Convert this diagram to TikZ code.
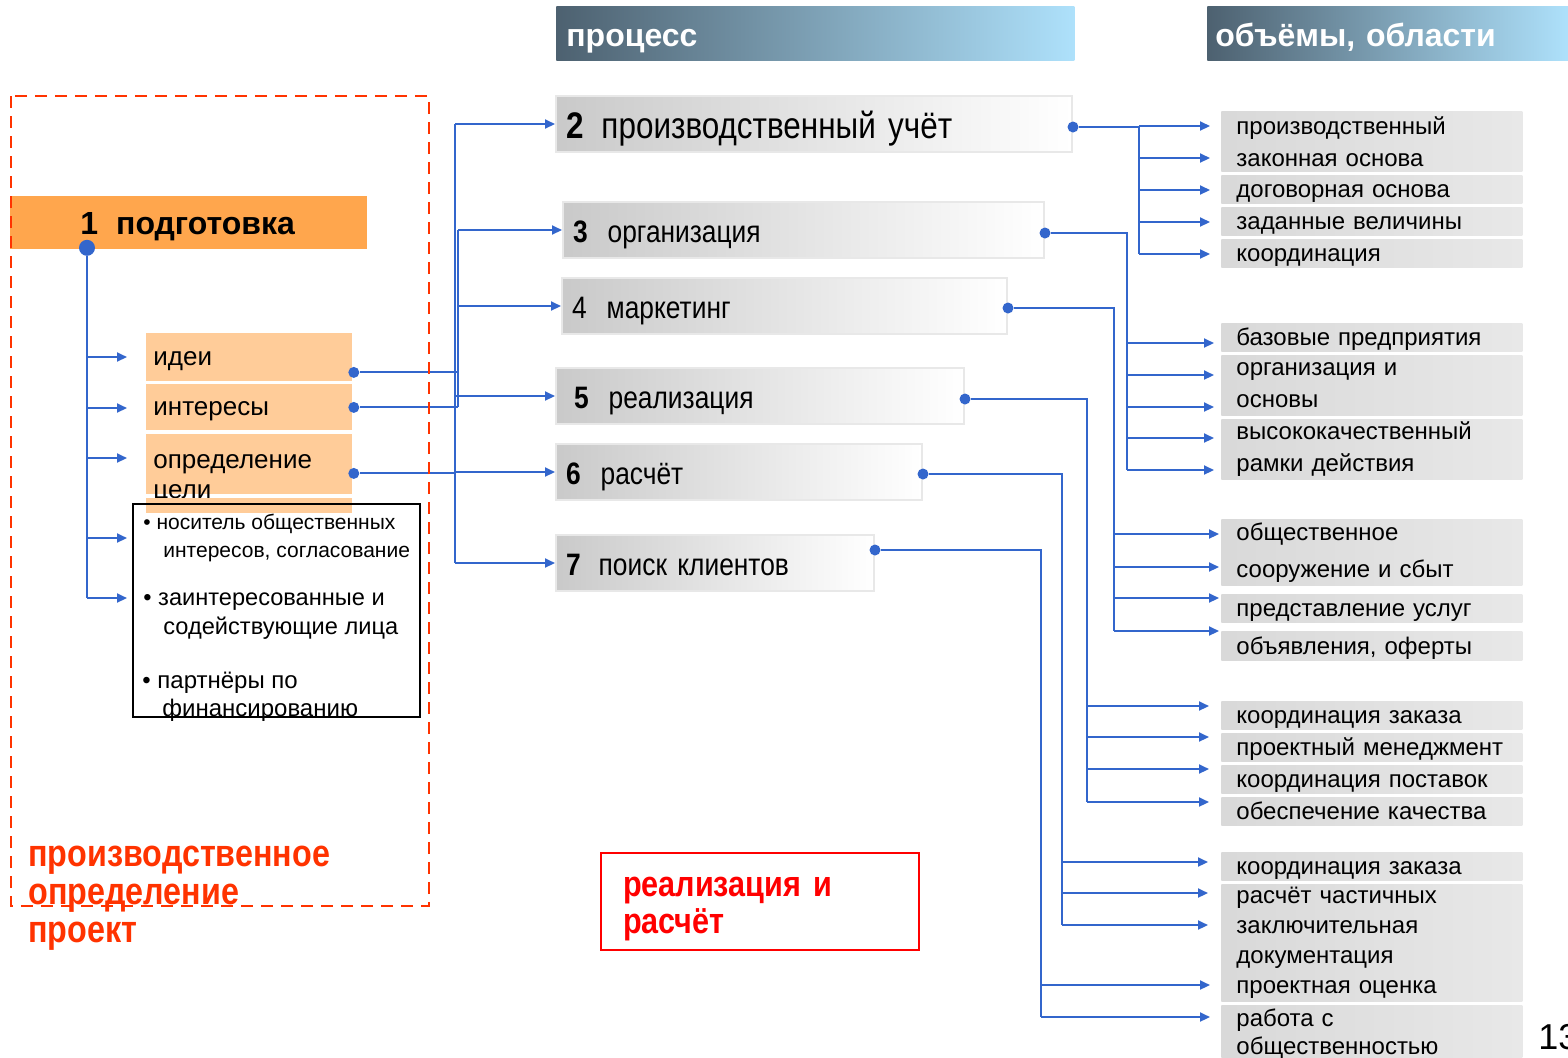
\documentclass[tikz,border=0pt]{standalone}
\usepackage{fontspec}
\setmainfont{Liberation Sans}
\newfontfamily\narrowfont[FakeStretch=0.85]{Liberation Sans}
\usetikzlibrary{positioning,arrows.meta}

\definecolor{linkblue}{HTML}{3366CC}
\definecolor{preporange}{HTML}{FFA64D}
\definecolor{itemorange}{HTML}{FFCC99}
\definecolor{frameorange}{HTML}{FF3300}
\definecolor{headdark}{HTML}{4D6170}
\definecolor{headlight}{HTML}{AEE1FB}

\begin{document}
\begin{tikzpicture}[x=0.5pt, y=-0.5pt, %one unit = one pixel of the slide, y goes down
  conn/.style={linkblue, line width=1pt},
  arr/.style={conn, -{Triangle[length=5pt, width=4.5pt]}},
  dot/.style={circle, fill=linkblue, inner sep=0pt, minimum size=5.5pt},
  headbar/.style={anchor=north west, left color=headdark, right color=headlight,
    minimum height=27pt, inner xsep=5pt, align=left, text=white,
    text height=13.5pt, text depth=0.9pt,
    font=\bfseries\fontsize{16}{18}\selectfont},
  procbox/.style={anchor=north west, draw=black!9, line width=1pt,
    left color=black!21, right color=white, minimum height=28pt,
    inner xsep=5pt, align=left, text height=13.2pt, text depth=0.8pt,
    font=\narrowfont\fontsize{15.5}{17}\selectfont},
  areabox/.style={anchor=north west, left color=black!15, right color=black!9,
    inner xsep=7.5pt, inner ysep=0pt, text width=135.5pt, align=left,
    font=\fontsize{12}{16}\selectfont},
  areaone/.style={areabox, minimum height=14pt, text height=9.5pt, text depth=1pt}, %one line
  prepitem/.style={anchor=north west, fill=itemorange, minimum width=103pt,
    inner xsep=3.5pt, text width=96pt, align=left, text height=9pt, text depth=1pt,
    font=\fontsize{13}{15}\selectfont},
  bullettext/.style={anchor=west, inner sep=0pt, align=left}
]
\fill[white] (0,0) rectangle (1568,1057); %page
\useasboundingbox (0,0) rectangle (1568,1057);

% headers
\node[headbar, text width=249pt] (hproc) at (556,6) {процесс};
\node[headbar, inner xsep=4pt, text width=172.5pt] (harea) at (1207,6) {объёмы, области};

% step 1 and its parts
\node[anchor=north west, fill=preporange, minimum width=178.5pt, minimum height=26.5pt,
  inner xsep=35pt, text width=108.5pt, align=left, text height=12.5pt, text depth=1pt,
  font=\bfseries\fontsize{16}{18}\selectfont] (prep) at (10,196) {1\hspace{9pt}подготовка};
\node[prepitem, minimum height=24pt] (o1) at (146,333) {идеи};
\node[prepitem, minimum height=23pt] (o2) at (146,384) {интересы};
\node[prepitem, minimum height=30pt] (o3) at (146,434) {};
\node[anchor=north west, inner sep=0pt, align=left,
  font=\fontsize{13}{15}\selectfont] (o3txt) at (153,454) {определение\\цели};
\node[prepitem, minimum height=7.5pt, inner ysep=0pt, text height=0pt, text depth=0pt] (o4) at (146,498) {};
\node[draw=black, line width=1pt, anchor=north west, minimum width=143.5pt,
  minimum height=106.5pt, inner sep=0pt] (info) at (132,503) {};
\node[bullettext, font=\fontsize{10.5}{14}\selectfont] (b1) at (143,538)
  {\textbullet\ носитель общественных\\\hspace*{10pt}интересов, согласование};
\node[bullettext, font=\fontsize{11.8}{14.5}\selectfont] (b2) at (143,616)
  {\textbullet\ заинтересованные и\\\hspace*{10pt}содействующие лица};
\node[bullettext, font=\fontsize{12}{14}\selectfont] (b3) at (142,697)
  {\textbullet\ партнёры по\\\hspace*{10pt}финансированию};

% steps 2-7
\node[procbox, text width=248pt, text height=15pt, text depth=1pt,
  font=\narrowfont\fontsize{18.5}{20}\selectfont] (p2) at (555,95)
  {\textbf{2}\hspace{9pt}производственный учёт};
\node[procbox, text width=230.5pt] (p3) at (562,201) {\textbf{3}\hspace{10pt}организация};
\node[procbox, text width=212.5pt] (p4) at (561,277) {4\hspace{10pt}маркетинг};
\node[procbox, inner xsep=9pt, text width=186pt] (p5) at (555,367) {\textbf{5}\hspace{10pt}реализация};
\node[procbox, text width=173pt] (p6) at (555,443) {\textbf{6}\hspace{10pt}расчёт};
\node[procbox, text width=149pt] (p7) at (555,534) {\textbf{7}\hspace{9pt}поиск клиентов};

% areas
\node[areabox, minimum height=30pt] (ra1) at (1221,111) {производственный\\законная основа};
\node[areaone] (ra2) at (1221,175) {договорная основа};
\node[areaone] (ra3) at (1221,207) {заданные величины};
\node[areaone] (ra4) at (1221,239) {координация};
\node[areaone] (rb1) at (1221,323) {базовые предприятия};
\node[areabox, minimum height=30pt] (rb2) at (1221,355) {организация и\\основы};
\node[areabox, minimum height=30pt] (rb3) at (1221,419) {высококачественный\\рамки действия};
\node[areabox, minimum height=33pt] (rc1) at (1221,519) {общественное\\[2.5pt]сооружение и сбыт};
\node[areaone] (rc2) at (1221,594) {представление услуг};
\node[areaone, minimum height=14.5pt] (rc3) at (1221,631) {объявления, оферты};
\node[areaone] (rd1) at (1221,701) {координация заказа};
\node[areaone] (rd2) at (1221,733) {проектный менеджмент};
\node[areaone] (rd3) at (1221,765) {координация поставок};
\node[areaone] (rd4) at (1221,797) {обеспечение качества};
\node[areaone] (re1) at (1221,852) {координация заказа};
\node[areabox, minimum height=58.5pt, font=\fontsize{12}{15}\selectfont] (re2) at (1221,884)
  {расчёт частичных\\заключительная\\документация\\проектная оценка};
\node[areabox, minimum height=29pt, font=\fontsize{12}{14}\selectfont] (re3) at (1221,1005)
  {работа с\\общественностью};

% captions
\node[anchor=west, inner sep=0pt, align=left, text=frameorange,
  font=\narrowfont\bfseries\fontsize{19}{19}\selectfont] (projlbl) at (28,898)
  {производственное\\определение\\проект};
\node[draw=red, line width=1pt, anchor=north west, minimum width=159pt, minimum height=48.5pt,
  inner xsep=11pt, text width=137pt, align=left, text=red, text height=17.5pt,
  font=\narrowfont\bfseries\fontsize{18}{18.5}\selectfont] (rcalc) at (600,852) {реализация и\\расчёт};
\node[anchor=west, inner sep=0pt, font=\fontsize{18}{18}\selectfont] (pgnum) at (1538,1037) {13};

% dots
\node[dot, minimum size=8pt] (dprep) at ([xshift=38.5pt, yshift=1pt]prep.south west) {};
\node[dot] (do1) at ([xshift=0.5pt, yshift=-7.5pt]o1.east) {};
\node[dot] (do2) at ([xshift=0.5pt]o2.east) {};
\node[dot] (do3) at ([xshift=0.5pt, yshift=-4.5pt]o3.east) {};
\foreach \p/\s in {p2/-1.5,p3/-1.5,p4/-1,p5/-1.5,p6/-1,p7/6.5}
  \node[dot] (d\p) at ([yshift=\s pt]\p.east) {};

% arrow tips and buses
\foreach \i/\y in {1/357,2/408,3/458,4/538,5/598} \coordinate (lt\i) at (127,\y);
\foreach \i/\y in {1/126,2/158,3/190,4/222,5/254} \coordinate (ta\i) at (1210,\y);
\foreach \i/\y in {1/343,2/375,3/407,4/438,5/470} \coordinate (tb\i) at (1214,\y);
\foreach \i/\y in {1/534,2/567,3/598,4/631} \coordinate (tc\i) at (1219,\y);
\foreach \i/\y in {1/706,2/737,3/769,4/802} \coordinate (td\i) at (1209,\y);
\foreach \i/\y in {1/862,2/893,3/925} \coordinate (te\i) at (1208,\y);
\foreach \i/\y in {1/985,2/1017} \coordinate (tf\i) at (1210,\y);
\coordinate (busL) at (455,0);
\coordinate (busM) at (458,0);
\coordinate (busA) at (1139,0);
\coordinate (busB) at (1127,0);
\coordinate (busC) at (1114,0);
\coordinate (busD) at (1087,0);
\coordinate (busE) at (1062,0);
\coordinate (busF) at (1041,0);

% step 1 -> its parts
\draw[conn] (dprep) -- (dprep |- lt5);
\foreach \i in {1,...,5} \draw[arr] (dprep |- lt\i) -- (lt\i);

% parts -> steps 2-7
\draw[conn] (busL |- p2.west) -- (busL |- p7.west);
\draw[conn] (busM |- p3.west) -- (busM |- do2);
\draw[conn] (do1) -- (do1 -| busM);
\draw[conn] (do2) -- (do2 -| busM);
\draw[conn] (do3) -- (do3 -| busL);
\foreach \p in {p2,p5,p6,p7} \draw[arr] (busL |- \p.west) -- (\p.west);
\foreach \p in {p3,p4} \draw[arr] (busM |- \p.west) -- (\p.west);

% steps -> areas
\draw[conn] (dp2) -- (dp2 -| busA) -- (busA |- ta5);
\foreach \i in {1,...,5} \draw[arr] (busA |- ta\i) -- (ta\i);
\draw[conn] (dp3) -- (dp3 -| busB) -- (busB |- tb5);
\foreach \i in {1,...,5} \draw[arr] (busB |- tb\i) -- (tb\i);
\draw[conn] (dp4) -- (dp4 -| busC) -- (busC |- tc4);
\foreach \i in {1,...,4} \draw[arr] (busC |- tc\i) -- (tc\i);
\draw[conn] (dp5) -- (dp5 -| busD) -- (busD |- td4);
\foreach \i in {1,...,4} \draw[arr] (busD |- td\i) -- (td\i);
\draw[conn] (dp6) -- (dp6 -| busE) -- (busE |- te3);
\foreach \i in {1,...,3} \draw[arr] (busE |- te\i) -- (te\i);
\draw[conn] (dp7) -- (dp7 -| busF) -- (busF |- tf2);
\foreach \i in {1,2} \draw[arr] (busF |- tf\i) -- (tf\i);

% dashed frame round step 1
\draw[frameorange, line width=1pt, dash pattern=on 6pt off 4pt] (11,96) rectangle (429,906);
\end{tikzpicture}
\end{document}
